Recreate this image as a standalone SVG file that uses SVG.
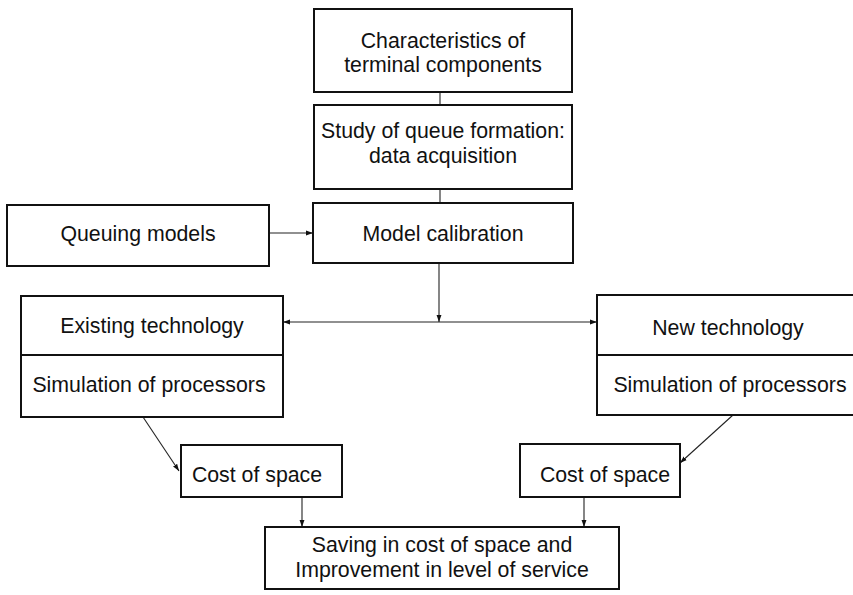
<svg xmlns="http://www.w3.org/2000/svg" width="853" height="595" viewBox="0 0 853 595">
<style>
.box{fill:#fff;stroke:#111;stroke-width:2}
.t{font-family:"Liberation Sans",Arial,sans-serif;font-size:21.3px;fill:#111;text-anchor:middle}
.c{fill:none;stroke:#222;stroke-width:1.1}
</style>
<defs>
<marker id="ah" viewBox="0 0 10 10" refX="10" refY="5" markerWidth="7" markerHeight="7" markerUnits="userSpaceOnUse" orient="auto">
<path d="M0,1.5 L10,5 L0,8.5 z" fill="#111"/>
</marker>
</defs>
<rect width="853" height="595" fill="#fff"/>
<g id="connectors">
<line class="c" x1="440" y1="92" x2="440" y2="105"/>
<line class="c" x1="440" y1="189" x2="440" y2="203"/>
<line class="c" x1="269" y1="233" x2="313" y2="233" marker-end="url(#ah)"/>
<line class="c" x1="439" y1="263" x2="439" y2="322" marker-end="url(#ah)"/>
<line class="c" x1="439" y1="322" x2="283" y2="322" marker-end="url(#ah)"/>
<line class="c" x1="439" y1="322" x2="597" y2="322" marker-end="url(#ah)"/>
<line class="c" x1="143" y1="417" x2="179" y2="471" marker-end="url(#ah)"/>
<line class="c" x1="733" y1="415" x2="680" y2="463" marker-end="url(#ah)"/>
<line class="c" x1="302" y1="497" x2="302" y2="527" marker-end="url(#ah)"/>
<line class="c" x1="584" y1="497" x2="584" y2="527" marker-end="url(#ah)"/>
</g>
<g id="characteristics">
<rect class="box" x="314" y="9" width="258" height="83"/>
<text class="t" x="443" y="48">Characteristics of</text>
<text class="t" x="443" y="72">terminal components</text>
</g>
<g id="study">
<rect class="box" x="314" y="105" width="258" height="84"/>
<text class="t" x="443" y="138">Study of queue formation:</text>
<text class="t" x="443" y="163">data acquisition</text>
</g>
<g id="queuing">
<rect class="box" x="7" y="205" width="262" height="61"/>
<text class="t" x="138" y="241">Queuing models</text>
</g>
<g id="calibration">
<rect class="box" x="313" y="203" width="260" height="60"/>
<text class="t" x="443" y="241">Model calibration</text>
</g>
<g id="existing">
<rect class="box" x="21" y="296" width="262" height="121"/>
<line class="box" x1="21" y1="355" x2="283" y2="355"/>
<text class="t" x="152" y="333">Existing technology</text>
<text class="t" x="149" y="392">Simulation of processors</text>
</g>
<g id="new">
<rect class="box" x="597" y="295" width="264" height="120"/>
<line class="box" x1="597" y1="355" x2="861" y2="355"/>
<text class="t" x="728" y="335">New technology</text>
<text class="t" x="730" y="392">Simulation of processors</text>
</g>
<g id="cost-left">
<rect class="box" x="181" y="445" width="161" height="52"/>
<text class="t" x="257" y="482">Cost of space</text>
</g>
<g id="cost-right">
<rect class="box" x="520" y="444" width="160" height="53"/>
<text class="t" x="605" y="482">Cost of space</text>
</g>
<g id="saving">
<rect class="box" x="265" y="527" width="354" height="62"/>
<text class="t" x="442" y="552">Saving in cost of space and</text>
<text class="t" x="442" y="577">Improvement in level of service</text>
</g>
</svg>
